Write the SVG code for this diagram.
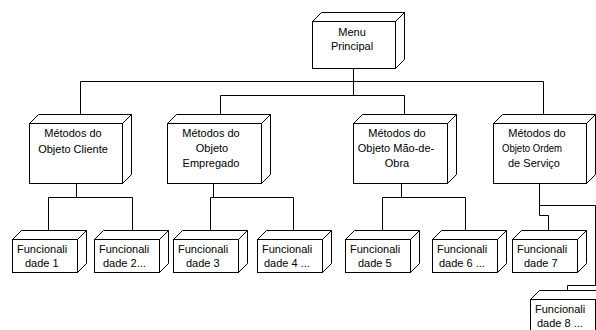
<svg xmlns="http://www.w3.org/2000/svg" width="596" height="330" viewBox="0 0 596 330">
  <style>
    .face { fill: #ffffff; stroke: #000000; stroke-width: 1; }
    .side { fill: #ffffff; stroke: #000000; stroke-width: 1; stroke-linejoin: miter; }
    .wire { fill: none; stroke: #000000; stroke-width: 1; }
    text { font-family: "Liberation Sans", Arial, sans-serif; font-size: 11px; fill: #000000; }
    .c { text-anchor: middle; }
  </style>
  <rect width="596" height="330" fill="#ffffff"/>

  <!-- tree connectors -->
  <g id="connectors" class="wire">
    <path d="M353.5 68 V95.5"/>
    <path d="M80.5 114 V81.5 H543.5 V114"/>
    <path d="M220.5 114 V95.5 H404.5 V114"/>
    <path d="M76.5 183 V197.5"/>
    <path d="M48.5 234 V197.5 H132.5 V234"/>
    <path d="M213.5 183 V197.5"/>
    <path d="M210.5 234 V197.5 H293.5 V234"/>
    <path d="M401.5 183 V197.5"/>
    <path d="M382.5 234 V197.5 H465.5 V234"/>
    <path d="M539.5 183 V215.5 H548.5 V234"/>
    <path d="M539.5 205.5 H595.5 V285.5 H567.5 V294"/>
  </g>

  <!-- root node -->
  <g id="menu-principal">
    <path class="side" d="M312.5 21.5 L321.5 12.5 H404.5 L395.5 21.5 Z"/>
    <path class="side" d="M395.5 21.5 L404.5 12.5 V59.5 L395.5 68.5 Z"/>
    <rect class="face" x="312.5" y="21.5" width="83" height="47"/>
    <text class="c" x="352" y="36">Menu</text>
    <text class="c" x="352" y="50">Principal</text>
  </g>

  <!-- method groups -->
  <g id="metodos-cliente">
    <path class="side" d="M29.5 123.5 L38.5 114.5 H131.5 L122.5 123.5 Z"/>
    <path class="side" d="M122.5 123.5 L131.5 114.5 V174.5 L122.5 183.5 Z"/>
    <rect class="face" x="29.5" y="123.5" width="93" height="60"/>
    <text class="c" x="73" y="137">Métodos do</text>
    <text class="c" x="73" y="153">Objeto Cliente</text>
  </g>

  <g id="metodos-empregado">
    <path class="side" d="M167.5 123.5 L176.5 114.5 H270.5 L261.5 123.5 Z"/>
    <path class="side" d="M261.5 123.5 L270.5 114.5 V174.5 L261.5 183.5 Z"/>
    <rect class="face" x="167.5" y="123.5" width="94" height="60"/>
    <text class="c" x="211" y="137">Métodos do</text>
    <text class="c" x="212" y="152">Objeto</text>
    <text class="c" x="211" y="167">Empregado</text>
  </g>

  <g id="metodos-mao-de-obra">
    <path class="side" d="M353.5 123.5 L362.5 114.5 H456.5 L447.5 123.5 Z"/>
    <path class="side" d="M447.5 123.5 L456.5 114.5 V174.5 L447.5 183.5 Z"/>
    <rect class="face" x="353.5" y="123.5" width="94" height="60"/>
    <text class="c" x="397" y="137">Métodos do</text>
    <text class="c" x="396" y="152">Objeto Mão-de-</text>
    <text class="c" x="397" y="167">Obra</text>
  </g>

  <g id="metodos-ordem-servico">
    <path class="side" d="M493.5 123.5 L502.5 114.5 H595.5 L586.5 123.5 Z"/>
    <path class="side" d="M586.5 123.5 L595.5 114.5 V174.5 L586.5 183.5 Z"/>
    <rect class="face" x="493.5" y="123.5" width="93" height="60"/>
    <text class="c" x="537" y="137">Métodos do</text>
    <text x="502" y="152" textLength="60" lengthAdjust="spacingAndGlyphs" style="font-size:10px">Objeto Ordem</text>
    <text class="c" x="534" y="167">de Serviço</text>
  </g>

  <!-- functionality leaves -->
  <g id="funcionalidade-1">
    <path class="side" d="M12.5 239.5 L21.5 230.5 H86.5 L77.5 239.5 Z"/>
    <path class="side" d="M77.5 239.5 L86.5 230.5 V263.5 L77.5 272.5 Z"/>
    <rect class="face" x="12.5" y="239.5" width="65" height="33"/>
    <text x="17" y="253">Funcionali</text>
    <text x="25" y="267">dade 1</text>
  </g>

  <g id="funcionalidade-2">
    <path class="side" d="M94.5 239.5 L103.5 230.5 H168.5 L159.5 239.5 Z"/>
    <path class="side" d="M159.5 239.5 L168.5 230.5 V263.5 L159.5 272.5 Z"/>
    <rect class="face" x="94.5" y="239.5" width="65" height="33"/>
    <text x="99" y="253">Funcionali</text>
    <text x="103" y="267">dade 2...</text>
  </g>

  <g id="funcionalidade-3">
    <path class="side" d="M173.5 239.5 L182.5 230.5 H247.5 L238.5 239.5 Z"/>
    <path class="side" d="M238.5 239.5 L247.5 230.5 V263.5 L238.5 272.5 Z"/>
    <rect class="face" x="173.5" y="239.5" width="65" height="33"/>
    <text x="178" y="253">Funcionali</text>
    <text x="186" y="267">dade 3</text>
  </g>

  <g id="funcionalidade-4">
    <path class="side" d="M257.5 239.5 L266.5 230.5 H331.5 L322.5 239.5 Z"/>
    <path class="side" d="M322.5 239.5 L331.5 230.5 V263.5 L322.5 272.5 Z"/>
    <rect class="face" x="257.5" y="239.5" width="65" height="33"/>
    <text x="262" y="253">Funcionali</text>
    <text x="264" y="267">dade 4 ...</text>
  </g>

  <g id="funcionalidade-5">
    <path class="side" d="M345.5 239.5 L354.5 230.5 H419.5 L410.5 239.5 Z"/>
    <path class="side" d="M410.5 239.5 L419.5 230.5 V263.5 L410.5 272.5 Z"/>
    <rect class="face" x="345.5" y="239.5" width="65" height="33"/>
    <text x="350" y="253">Funcionali</text>
    <text x="358" y="267">dade 5</text>
  </g>

  <g id="funcionalidade-6">
    <path class="side" d="M432.5 239.5 L441.5 230.5 H506.5 L497.5 239.5 Z"/>
    <path class="side" d="M497.5 239.5 L506.5 230.5 V263.5 L497.5 272.5 Z"/>
    <rect class="face" x="432.5" y="239.5" width="65" height="33"/>
    <text x="437" y="253">Funcionali</text>
    <text x="439" y="267">dade 6 ...</text>
  </g>

  <g id="funcionalidade-7">
    <path class="side" d="M512.5 239.5 L521.5 230.5 H586.5 L577.5 239.5 Z"/>
    <path class="side" d="M577.5 239.5 L586.5 230.5 V263.5 L577.5 272.5 Z"/>
    <rect class="face" x="512.5" y="239.5" width="65" height="33"/>
    <text x="517" y="253">Funcionali</text>
    <text x="524" y="267">dade 7</text>
  </g>

  <g id="funcionalidade-8">
    <path class="side" d="M530.5 299.5 L539.5 290.5 H604.5 L595.5 299.5 Z"/>
    <rect class="face" x="530.5" y="299.5" width="65" height="33"/>
    <text x="535" y="313">Funcionali</text>
    <text x="537" y="327">dade 8 ...</text>
  </g>
</svg>
